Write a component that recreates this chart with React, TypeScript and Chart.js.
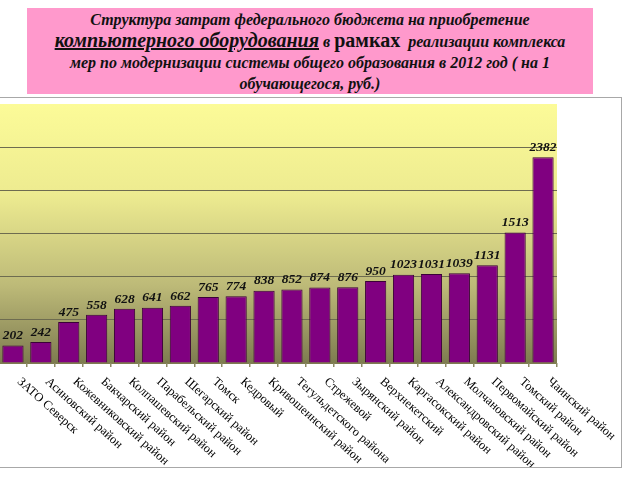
import React, { useEffect, useRef } from "react";
import { Chart, registerables } from "chart.js";

Chart.register(...registerables);

const categories = [
  "ЗАТО Северск",
  "Асиновский район",
  "Кожевниковский район",
  "Бакчарский район",
  "Колпашевский район",
  "Парабельский район",
  "Шегарский район",
  "Томск",
  "Кедровый",
  "Кривошеинский район",
  "Тегульдетского района",
  "Стрежевой",
  "Зырянский район",
  "Верхнекетский",
  "Каргасокский район",
  "Александровский район",
  "Молчановский район",
  "Первомайский район",
  "Томский район",
  "Чаинский район",
];

const values = [202, 242, 475, 558, 628, 641, 662, 765, 774, 838, 852, 874, 876, 950, 1023, 1031, 1039, 1131, 1513, 2382];

const yMax = 3000;
const yStep = 500;

const bgPlugin = {
  id: "bgGradient",
  beforeDraw(chart: any) {
    const { ctx, chartArea } = chart;
    if (!chartArea) return;
    const g = ctx.createLinearGradient(0, chartArea.top, 0, chartArea.bottom);
    g.addColorStop(0, "#FCFB98");
    g.addColorStop(0.35, "#EDEB90");
    g.addColorStop(0.7, "#BDBA78");
    g.addColorStop(1, "#7E7C50");
    ctx.save();
    ctx.fillStyle = g;
    ctx.fillRect(chartArea.left, chartArea.top, chartArea.right - chartArea.left, chartArea.bottom - chartArea.top + 1);
    ctx.restore();
  },
};

const valueLabelPlugin = {
  id: "valueLabels",
  afterDatasetsDraw(chart: any) {
    const { ctx } = chart;
    const meta = chart.getDatasetMeta(0);
    ctx.save();
    ctx.font = "bold italic 13.5px 'Liberation Serif'";
    ctx.fillStyle = "#111";
    ctx.textAlign = "center";
    ctx.textBaseline = "bottom";
    meta.data.forEach((bar: any, i: number) => {
      ctx.fillText(String(values[i]), bar.x, bar.y - 3);
    });
    ctx.restore();
  },
};

const catLabelPlugin = {
  id: "catLabels",
  afterDraw(chart: any) {
    const { ctx, chartArea } = chart;
    const xs = chart.scales.x;
    ctx.save();
    ctx.font = "12.5px 'Liberation Serif'";
    ctx.fillStyle = "#000";
    ctx.textAlign = "left";
    ctx.textBaseline = "middle";
    categories.forEach((c, i) => {
      const x = xs.getPixelForValue(i);
      ctx.save();
      ctx.translate(x + 6, chartArea.bottom + 17);
      ctx.rotate((42 * Math.PI) / 180);
      ctx.fillText(c, 0, 0);
      ctx.restore();
    });
    ctx.restore();
  },
};

function ChartView() {
  const ref = useRef<HTMLCanvasElement | null>(null);
  useEffect(() => {
    if (!ref.current) return;
    const chart = new Chart(ref.current, {
      type: "bar",
      data: {
        labels: categories,
        datasets: [
          {
            data: values,
            backgroundColor: "#800080",
            borderColor: "#3A0038",
            borderWidth: 1,
            barPercentage: 0.76,
            categoryPercentage: 1,
          },
        ],
      },
      options: {
        animation: false,
        responsive: false,
        maintainAspectRatio: false,
        layout: { padding: { left: 0, right: 65, top: 7, bottom: 0 } },
        plugins: {
          legend: { display: false },
          tooltip: { enabled: false },
          title: { display: false },
        },
        scales: {
          x: {
            ticks: { display: false },
            grid: {
              display: true,
              drawOnChartArea: false,
              drawTicks: true,
              tickLength: 4,
              color: "#8C8A64",
              lineWidth: 1.5,
              offset: true,
            },
            border: { display: false },
            afterFit(scale: any) {
              scale.height = 105;
            },
          },
          y: {
            min: 0,
            max: yMax,
            ticks: { display: false, stepSize: yStep },
            grid: {
              color: (c: any) =>
                c.tick && (c.tick.value === yMax || c.tick.value === 0) ? "rgba(0,0,0,0)" : "#6E6C50",
              lineWidth: 1,
              drawTicks: false,
            },
            border: { display: false },
            afterFit(scale: any) {
              scale.width = 0;
            },
          },
        },
      },
      plugins: [bgPlugin, valueLabelPlugin, catLabelPlugin],
    });
    return () => chart.destroy();
  }, []);
  return (
    <canvas
      ref={ref}
      width={623}
      height={371}
      style={{ position: "absolute", left: -1, top: 97, width: 623, height: 371, background: "#fff" }}
    />
  );
}

export default function App() {
  const normal: React.CSSProperties = { fontSize: 16 };
  const big: React.CSSProperties = { fontSize: 20 };
  return (
    <div
      style={{
        position: "fixed",
        left: 0,
        top: 0,
        width: 640,
        height: 480,
        background: "#fff",
        overflow: "hidden",
        fontFamily: "'Liberation Serif', serif",
      }}
    >
      <div
        style={{
          position: "absolute",
          left: 27,
          top: 8,
          width: 566,
          height: 86,
          background: "#FF99CC",
          textAlign: "center",
          fontWeight: "bold",
          fontStyle: "italic",
          color: "#111",
          lineHeight: "21px",
          paddingTop: 1,
          boxSizing: "border-box",
        }}
      >
        <div style={normal}>Структура затрат федерального бюджета на приобретение</div>
        <div>
          <span style={{ ...big, textDecoration: "underline" }}>компьютерного оборудования</span>
          <span style={normal}> в </span>
          <span style={{ ...big, fontStyle: "normal" }}>рамках</span>
          <span style={normal}>&nbsp; реализации комплекса</span>
        </div>
        <div style={normal}>мер по модернизации системы общего образования в 2012 год ( на 1</div>
        <div style={normal}>обучающегося, руб.)</div>
      </div>
      <ChartView />
      <div
        style={{
          position: "absolute",
          left: -2,
          top: 97,
          width: 624,
          height: 371,
          border: "1px solid #A8A8A8",
          boxSizing: "border-box",
          pointerEvents: "none",
        }}
      />
    </div>
  );
}
